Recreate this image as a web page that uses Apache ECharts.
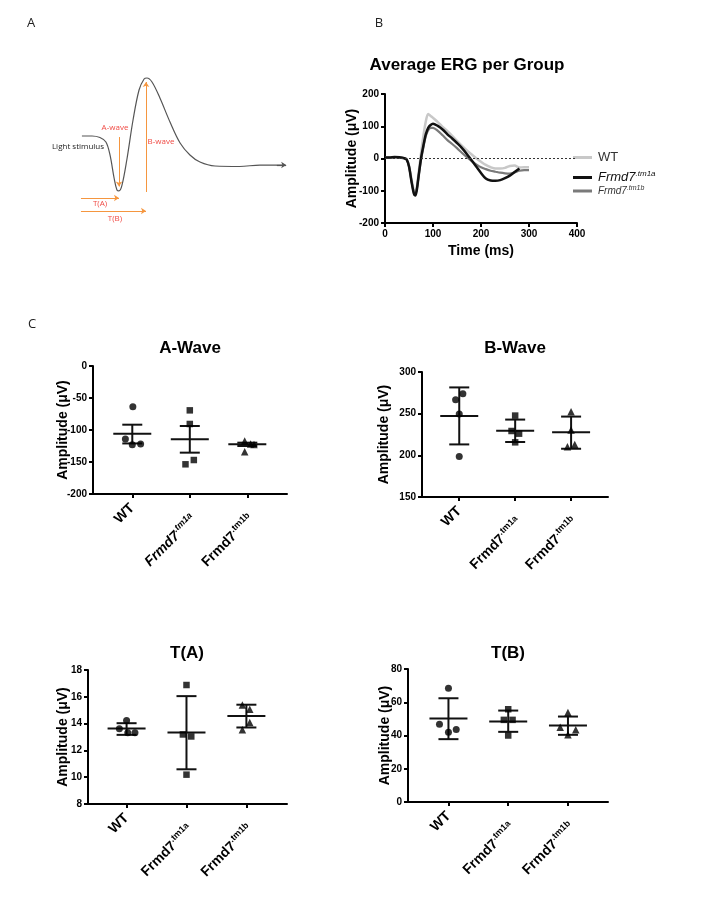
<!DOCTYPE html>
<html><head><meta charset="utf-8">
<script src="https://cdn.jsdelivr.net/npm/echarts@6/dist/echarts.min.js"></script>
<style>html,body{margin:0;padding:0;background:#fff}#c{width:703px;height:897px}</style>
</head><body><div id="c"></div>
<script>
// ---------- Panel A schematic (arbitrary units) ----------
const schemX = [13.3,17.5,20.8,23.3,25,26.7,27.9,28.75,30,32,34.6,37.1,39.2,40.4,42.5,45.8,50,54.2,58.3,62.5,68.75,79,87.5,97.9];
const schemY = [58.75,58.75,57.8,55,46.9,32.5,25,24.4,28,43.75,68.75,87.5,94.4,95,92.5,82.5,67.5,54.4,46.9,42.5,40,39.7,40.6,40.6];
const arrowAWave = [[28.75,58.1],[28.75,27.2]];
const arrowBWave = [[40,23.75],[40,92.5]];
const arrowTA = [[12.9,20],[28.75,20]];
const arrowTB = [[12.9,11.9],[40,11.9]];

// ---------- Panel B: average ERG ----------
const ergTime = [0,10,20,30,40,45,50,55,60,63,66,70,75,80,85,90,95,100,110,120,130,140,150,160,170,180,190,200,210,220,230,240,250,260,270,280,290,300];
const ergWT   = [2,2,4,3,0,-3,-22,-62,-98,-104,-92,-45,15,70,115,138,132,126,113,98,85,70,55,40,26,13,1,-10,-20,-27,-31,-31,-29,-23,-22,-28,-27,-27];
const ergTm1a = [3,3,5,4,1,-3,-25,-70,-108,-115,-100,-55,0,40,75,95,104,108,101,90,75,62,48,33,15,-5,-25,-45,-62,-68,-69,-67,-61,-53,-42,-31,null,null];
const ergTm1b = [3,3,4,3,1,-3,-24,-68,-105,-110,-97,-55,-5,35,70,88,95,95,86,72,57,45,32,18,5,-7,-18,-27,-33,-38,-41,-44,-46,-47,-43,-38,-36,-36];

// ---------- Panel C: dot plots ----------
const groups = ['WT','Frmd7.tm1a','Frmd7.tm1b'];

const aWaveValues = [[-63.5,-114,-123,-122],[-69.3,-90.6,-146.9,-153.6],[-117,-122,-122.5,-134]];
const aWaveJitter = [[0.01,-0.12,0,0.145],[0,0,0.07,-0.075],[-0.046,0.058,0.116,-0.046]];
const aWaveMean = [-105.7,-114.6,-122.4];
const aWaveLow  = [-121,-135.4,-125];
const aWaveHigh = [-91.7,-93.75,-119.8];

const bWaveValues = [[273.9,266.6,249.7,198.7],[247.7,229.2,226,215.6],[252.2,230.4,210.3,213.1]];
const bWaveJitter = [[0.065,-0.065,0,0],[0,-0.065,0.07,0],[0,0,-0.065,0.065]];
const bWaveMean = [247.3,229.6,227.6];
const bWaveLow  = [213.1,216,207.9];
const bWaveHigh = [281.5,242.9,246.5];

const tAValues = [[14.23,13.61,13.31,13.31],[16.88,13.19,13.04,10.19],[15.38,15.08,14.08,13.54]];
const tAJitter = [[0,-0.12,0.02,0.14],[0,-0.06,0.08,0],[-0.067,0.056,0.056,-0.067]];
const tAMean = [13.64,13.34,14.56];
const tALow  = [13.16,10.59,13.71];
const tAHigh = [14.03,16.05,15.41];

const tBValues = [[68.4,46.8,42,43.6],[55.8,49.4,49.4,40],[53.8,45,43.4,40.4]];
const tBJitter = [[0,-0.15,0,0.13],[0,-0.073,0.073,0],[0,-0.13,0.13,0]];
const tBMean = [50.2,48.4,46];
const tBLow  = [37.8,42.2,40.4];
const tBHigh = [62.4,55,51.4];

// ---------- build ----------
const chart = echarts.init(document.getElementById('c'), null, {renderer:'canvas'});
const FONT = 'Liberation Sans, Arial, sans-serif';
const grids = [], xAxes = [], yAxes = [], series = [], graphics = [];

// Grid 0 : schematic
grids.push({left:50, top:70, width:240, height:160});
xAxes.push({type:'value', gridIndex:0, min:0, max:100, show:false});
yAxes.push({type:'value', gridIndex:0, min:0, max:100, show:false});
const orange = '#f5963f';
function seg(p){ return [{coord:p[0]},{coord:p[1]}]; }
series.push({
  type:'line', xAxisIndex:0, yAxisIndex:0, smooth:0.35, symbol:'none',
  data: schemX.map((x,i)=>[x, schemY[i]]),
  lineStyle:{color:'#555', width:1.2},
  markLine:{silent:true, symbol:['none','arrow'], symbolSize:5, label:{show:false},
    lineStyle:{color:orange, width:1, type:'solid'},
    data:[seg(arrowAWave), seg(arrowBWave), seg(arrowTA), seg(arrowTB),
      [{coord:[schemX[schemX.length-2]+7, schemY[schemY.length-1]], lineStyle:{color:'#555',width:1.2}},{coord:[schemX[schemX.length-1]+0.5, schemY[schemY.length-1]]}]
    ]}
});

// Grid 1 : ERG
grids.push({left:385, top:94, width:192, height:129});
function axBase(margin){ return {
  axisLine:{onZero:false, lineStyle:{color:'#000', width:2}},
  axisTick:{lineStyle:{color:'#000', width:2}, length:4},
  axisLabel:{color:'#000', fontWeight:'bold', fontSize:10, fontFamily:FONT, margin:margin},
  splitLine:{show:false}
};}
const nameStyle = {color:'#000', fontWeight:'bold', fontSize:14, fontFamily:FONT};
xAxes.push(Object.assign({type:'value', gridIndex:1, min:0, max:400, interval:100,
  name:'Time (ms)', nameLocation:'middle', nameGap:21, nameMoveOverlap:false, nameTextStyle:nameStyle}, axBase(6)));
yAxes.push(Object.assign({type:'value', gridIndex:1, min:-200, max:200, interval:100,
  name:'Amplitude (\u03bcV)', nameLocation:'middle', nameGap:26, nameMoveOverlap:false, nameTextStyle:nameStyle}, axBase(6)));
const ergSeries = [
  {name:'WT', data:ergWT, color:'#c8c8c8', w:2.5},
  {name:'Frmd7.tm1b', data:ergTm1b, color:'#7a7a7a', w:2.2},
  {name:'Frmd7.tm1a', data:ergTm1a, color:'#111111', w:2.5}
];
ergSeries.forEach((s,k)=>{
  const o = {type:'line', name:s.name, xAxisIndex:1, yAxisIndex:1, symbol:'none', smooth:0.3,
    data: ergTime.map((t,i)=>[t, s.data[i]]), color:s.color,
    lineStyle:{color:s.color, width:s.w}};
  if(k===0){ o.markLine = {silent:true, symbol:'none', label:{show:false},
    lineStyle:{color:'#333', width:1, type:[2,2]}, data:[{yAxis:0}]}; }
  series.push(o);
});

// dot-plot panels
const catLabelRich = {
  n:{fontSize:14, fontWeight:'bold', fontFamily:FONT, color:'#000'},
  m:{fontSize:14, fontWeight:'bold', fontFamily:FONT, color:'#000', padding:[22,0,0,0]},
  mi:{fontSize:14, fontWeight:'bold', fontStyle:'italic', fontFamily:FONT, color:'#000', padding:[22,0,0,0]},
  s:{fontSize:9, fontWeight:'bold', fontFamily:FONT, color:'#000', verticalAlign:'bottom', padding:[0,5,7,0]},
  si:{fontSize:9, fontWeight:'bold', fontStyle:'italic', fontFamily:FONT, color:'#000', verticalAlign:'bottom', padding:[0,5,7,0]}
};
function catFmt(italicFirst){
  return function(v){
    const i = Math.round(v);
    if(i===0) return '{n|WT}';
    const parts = groups[i].split('.');
    if(italicFirst && i===1) return '{mi|'+parts[0]+'}{si|.'+parts[1]+'}';
    return '{m|'+parts[0]+'}{s|.'+parts[1]+'}';
  };
}
const symbols = ['circle','rect','triangle'];
const symSizes = [7,6.5,7.5];
function dotPanel(cfg){
  const gi = grids.length;
  grids.push(cfg.grid);
  xAxes.push({type:'value', gridIndex:gi, min:cfg.xmin, max:cfg.xmax,
    axisLine:{onZero:false, lineStyle:{color:'#000', width:2}},
    axisTick:{lineStyle:{color:'#000', width:2}, length:4, customValues:[0,1,2]},
    axisLabel:{customValues:[0,1,2], rotate:45, margin:12, formatter:catFmt(cfg.italic), rich:catLabelRich},
    splitLine:{show:false}});
  yAxes.push(Object.assign({type:'value', gridIndex:gi, min:cfg.ymin, max:cfg.ymax, interval:cfg.interval,
    name:'Amplitude (\u03bcV)', nameLocation:'middle', nameGap:cfg.nameGap, nameMoveOverlap:false, nameTextStyle:nameStyle}, axBase(6)));
  for(let g=0; g<3; g++){
    series.push({type:'scatter', xAxisIndex:gi, yAxisIndex:gi, symbol:symbols[g], symbolSize:symSizes[g],
      itemStyle:{color:'#000'},
      data: cfg.values[g].map((v,i)=>[g + cfg.jitter[g][i], v])});
  }
  series.push({type:'custom', xAxisIndex:gi, yAxisIndex:gi,
    data: cfg.mean.map((m,g)=>[g, m, cfg.low[g], cfg.high[g]]),
    encode:{x:0, y:[1,2,3]},
    renderItem:function(params, api){
      const c = api.coord([api.value(0), api.value(1)]);
      const lo = api.coord([api.value(0), api.value(2)]);
      const hi = api.coord([api.value(0), api.value(3)]);
      const st = {stroke:'#111', lineWidth:2};
      return {type:'group', children:[
        {type:'line', shape:{x1:c[0]-19, y1:c[1], x2:c[0]+19, y2:c[1]}, style:st},
        {type:'line', shape:{x1:c[0], y1:lo[1], x2:c[0], y2:hi[1]}, style:st},
        {type:'line', shape:{x1:c[0]-10, y1:lo[1], x2:c[0]+10, y2:lo[1]}, style:st},
        {type:'line', shape:{x1:c[0]-10, y1:hi[1], x2:c[0]+10, y2:hi[1]}, style:st}
      ]};
    }});
}
dotPanel({grid:{left:93, top:366, width:194, height:128}, xmin:-0.683, xmax:2.69, ymin:-200, ymax:0, interval:50, nameGap:23, italic:true,
  values:aWaveValues, jitter:aWaveJitter, mean:aWaveMean, low:aWaveLow, high:aWaveHigh});
dotPanel({grid:{left:422, top:372, width:186, height:125}, xmin:-0.666, xmax:2.66, ymin:150, ymax:300, interval:50, nameGap:31, italic:false,
  values:bWaveValues, jitter:bWaveJitter, mean:bWaveMean, low:bWaveLow, high:bWaveHigh});
dotPanel({grid:{left:88, top:670, width:199, height:134}, xmin:-0.644, xmax:2.678, ymin:8, ymax:18, interval:2, nameGap:18, italic:false,
  values:tAValues, jitter:tAJitter, mean:tAMean, low:tALow, high:tAHigh});
dotPanel({grid:{left:408, top:669, width:200, height:133}, xmin:-0.677, xmax:2.67, ymin:0, ymax:80, interval:20, nameGap:16, italic:false,
  values:tBValues, jitter:tBJitter, mean:tBMean, low:tBLow, high:tBHigh});

// texts
function txt(t, x, y, size, opts){
  graphics.push({type:'text', x:x, y:y, silent:true, style:Object.assign({text:t, fontSize:size, fontFamily:FONT,
    fill:'#000', textAlign:'center', textVerticalAlign:'middle'}, opts||{})});
}
txt('A', 31, 23, 13, {fontFamily:'Open Sans', fill:'#222'});
txt('B', 379, 23, 13, {fontFamily:'Open Sans', fill:'#222'});
txt('C', 32, 324, 13, {fontFamily:'Open Sans', fill:'#222'});
txt('Light stimulus', 78, 147, 8, {fontFamily:'Open Sans', fill:'#222'});
txt('A-wave', 115, 128, 8, {fontFamily:'Open Sans', fill:'#f04a44'});
txt('B-wave', 161, 142, 8, {fontFamily:'Open Sans', fill:'#f04a44'});
txt('T(A)', 100, 204, 8, {fontFamily:'Open Sans', fill:'#f04a44'});
txt('T(B)', 115, 219, 8, {fontFamily:'Open Sans', fill:'#f04a44'});
txt('Average ERG per Group', 467, 65, 17, {fontWeight:'bold'});
txt('A-Wave', 190, 348, 17, {fontWeight:'bold'});
txt('B-Wave', 515, 348, 17, {fontWeight:'bold'});
txt('T(A)', 187, 653, 17, {fontWeight:'bold'});
txt('T(B)', 508, 653, 17, {fontWeight:'bold'});

// legends
const legRich = {
  n:{fontSize:13, fontFamily:FONT, color:'#333'},
  i:{fontSize:13, fontStyle:'italic', fontFamily:FONT, color:'#111'},
  is:{fontSize:8, fontStyle:'italic', fontFamily:FONT, color:'#111', verticalAlign:'top', padding:[0,0,7,0]},
  i2:{fontSize:10, fontStyle:'italic', fontFamily:FONT, color:'#333'},
  is2:{fontSize:7, fontStyle:'italic', fontFamily:FONT, color:'#333', verticalAlign:'top', padding:[0,0,5,0]}
};
const legends = [
  {data:['WT'], top:151, fmt:()=> '{n|WT}'},
  {data:['Frmd7.tm1a'], top:170, fmt:()=> '{i|Frmd7}{is|.tm1a}'},
  {data:['Frmd7.tm1b'], top:185, fmt:()=> '{i2|Frmd7}{is2|.tm1b}'}
].map(l=>({left:573, top:l.top, orient:'vertical', data:l.data, icon:'rect', itemWidth:19, itemHeight:3,
  itemGap:0, padding:0, formatter:l.fmt, textStyle:{rich:legRich, padding:[0,0,0,1]}}));

chart.setOption({
  backgroundColor:'#fff', animation:false,
  grid:grids, xAxis:xAxes, yAxis:yAxes, series:series, legend:legends, graphic:graphics
});
</script></body></html>
